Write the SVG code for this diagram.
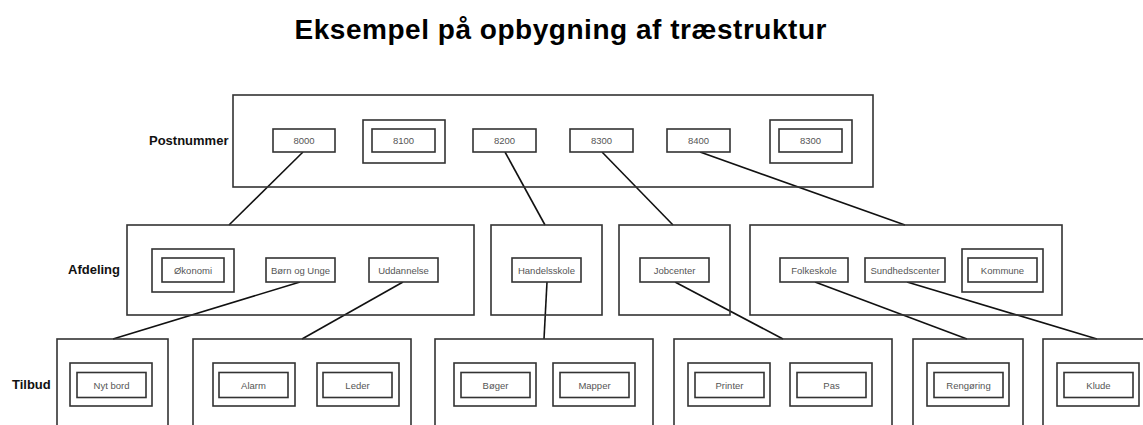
<svg xmlns="http://www.w3.org/2000/svg" width="1143" height="425" viewBox="0 0 1143 425">
<style>
.c{fill:none;stroke:#333;stroke-width:1.6}
.b{fill:#fff;stroke:#333;stroke-width:1.6}
.o{fill:none;stroke:#333;stroke-width:1.6}
.t{font-family:"Liberation Sans",Arial,sans-serif;font-size:9.5px;fill:#555;text-anchor:middle}
.l{font-family:"Liberation Sans",Arial,sans-serif;font-size:13px;font-weight:bold;fill:#111}
.e{stroke:#111;stroke-width:1.6;fill:none}
</style>
<rect width="1143" height="425" fill="#fff"/>
<text x="560.5" y="39" font-family="'Liberation Sans',Arial,sans-serif" font-size="28" font-weight="bold" fill="#000" text-anchor="middle" textLength="532" lengthAdjust="spacing">Eksempel på opbygning af træstruktur</text>

<text class="l" x="149" y="145">Postnummer</text>
<text class="l" x="68" y="274">Afdeling</text>
<text class="l" x="12" y="389">Tilbud</text>

<g id="connectors">
<line class="e" x1="303" y1="152" x2="229" y2="225"/>
<line class="e" x1="505" y1="152" x2="545" y2="225"/>
<line class="e" x1="602" y1="152" x2="673" y2="225"/>
<line class="e" x1="700" y1="152" x2="905" y2="225"/>
<line class="e" x1="300" y1="282" x2="113" y2="339"/>
<line class="e" x1="403" y1="282" x2="302" y2="339"/>
<line class="e" x1="547" y1="282" x2="544" y2="339"/>
<line class="e" x1="675" y1="282" x2="783" y2="339"/>
<line class="e" x1="815" y1="282" x2="967" y2="339"/>
<line class="e" x1="907" y1="282" x2="1097" y2="339"/>
</g>

<g id="postnummer">
<rect class="c" x="233" y="95" width="640" height="92"/>
<g id="p8000"><rect class="b" x="273" y="129" width="62" height="23"/><text class="t" x="304" y="144">8000</text></g>
<g id="p8100"><rect class="o" x="363" y="120" width="82" height="43"/><rect class="b" x="372" y="129" width="63" height="23"/><text class="t" x="403.5" y="144">8100</text></g>
<g id="p8200"><rect class="b" x="473" y="129" width="63" height="23"/><text class="t" x="504.5" y="144">8200</text></g>
<g id="p8300"><rect class="b" x="570" y="129" width="63" height="23"/><text class="t" x="601.5" y="144">8300</text></g>
<g id="p8400"><rect class="b" x="667" y="129" width="63" height="23"/><text class="t" x="698.5" y="144">8400</text></g>
<g id="p8300b"><rect class="o" x="770" y="120" width="82" height="43"/><rect class="b" x="779" y="129" width="63" height="23"/><text class="t" x="810.5" y="144">8300</text></g>
</g>

<g id="afdeling1">
<rect class="c" x="127" y="225" width="347" height="90"/>
<g id="okonomi"><rect class="o" x="152" y="249" width="82" height="43"/><rect class="b" x="162" y="258" width="62" height="24"/><text class="t" x="193" y="273.5">Økonomi</text></g>
<g id="born"><rect class="b" x="266" y="258" width="69" height="24"/><text class="t" x="300.5" y="273.5">Børn og Unge</text></g>
<g id="uddannelse"><rect class="b" x="369" y="258" width="69" height="24"/><text class="t" x="403.5" y="273.5">Uddannelse</text></g>
</g>
<g id="afdeling2">
<rect class="c" x="491" y="225" width="111" height="90"/>
<g id="handelsskole"><rect class="b" x="512" y="258" width="69" height="24"/><text class="t" x="546.5" y="273.5">Handelsskole</text></g>
</g>
<g id="afdeling3">
<rect class="c" x="619" y="225" width="111" height="90"/>
<g id="jobcenter"><rect class="b" x="640" y="258" width="69" height="24"/><text class="t" x="674.5" y="273.5">Jobcenter</text></g>
</g>
<g id="afdeling4">
<rect class="c" x="750" y="225" width="312" height="90"/>
<g id="folkeskole"><rect class="b" x="780" y="258" width="68" height="24"/><text class="t" x="814" y="273.5">Folkeskole</text></g>
<g id="sundhed"><rect class="b" x="865" y="258" width="80" height="24"/><text class="t" x="905" y="273.5">Sundhedscenter</text></g>
<g id="kommune"><rect class="o" x="962" y="249" width="81" height="43"/><rect class="b" x="968" y="258" width="69" height="24"/><text class="t" x="1002.5" y="273.5">Kommune</text></g>
</g>

<g id="tilbud1">
<rect class="c" x="57" y="339" width="111" height="110"/>
<g id="nytbord"><rect class="o" x="70" y="363" width="82" height="43"/><rect class="b" x="77" y="372.5" width="69" height="25"/><text class="t" x="111.5" y="388.5">Nyt bord</text></g>
</g>
<g id="tilbud2">
<rect class="c" x="193" y="339" width="218" height="110"/>
<g id="alarm"><rect class="o" x="213" y="363" width="82" height="43"/><rect class="b" x="219" y="372.5" width="69" height="25"/><text class="t" x="253.5" y="388.5">Alarm</text></g>
<g id="leder"><rect class="o" x="317" y="363" width="82" height="43"/><rect class="b" x="323" y="372.5" width="69" height="25"/><text class="t" x="357.5" y="388.5">Leder</text></g>
</g>
<g id="tilbud3">
<rect class="c" x="435" y="339" width="218" height="110"/>
<g id="boger"><rect class="o" x="454" y="363" width="82" height="43"/><rect class="b" x="461" y="372.5" width="69" height="25"/><text class="t" x="495.5" y="388.5">Bøger</text></g>
<g id="mapper"><rect class="o" x="553" y="363" width="82" height="43"/><rect class="b" x="560" y="372.5" width="69" height="25"/><text class="t" x="594.5" y="388.5">Mapper</text></g>
</g>
<g id="tilbud4">
<rect class="c" x="674" y="339" width="218" height="110"/>
<g id="printer"><rect class="o" x="688" y="363" width="82" height="43"/><rect class="b" x="695" y="372.5" width="69" height="25"/><text class="t" x="729.5" y="388.5">Printer</text></g>
<g id="pas"><rect class="o" x="790" y="363" width="82" height="43"/><rect class="b" x="797" y="372.5" width="69" height="25"/><text class="t" x="831.5" y="388.5">Pas</text></g>
</g>
<g id="tilbud5">
<rect class="c" x="913" y="339" width="110" height="110"/>
<g id="rengoring"><rect class="o" x="927" y="363" width="82" height="43"/><rect class="b" x="934" y="372.5" width="69" height="25"/><text class="t" x="968.5" y="388.5">Rengøring</text></g>
</g>
<g id="tilbud6">
<rect class="c" x="1043" y="339" width="120" height="110"/>
<g id="klude"><rect class="o" x="1057" y="363" width="82" height="43"/><rect class="b" x="1064" y="372.5" width="69" height="25"/><text class="t" x="1098.5" y="388.5">Klude</text></g>
</g>
</svg>
